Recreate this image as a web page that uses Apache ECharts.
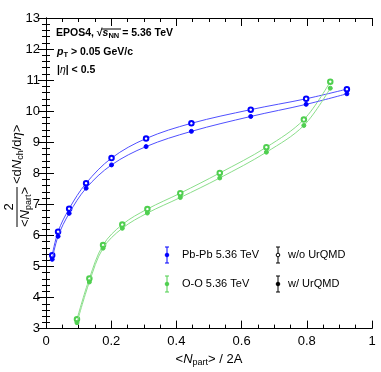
<!DOCTYPE html>
<html>
<head>
<meta charset="utf-8">
<script src="https://cdn.jsdelivr.net/npm/echarts@6/dist/echarts.min.js"></script>
<style>
  html, body { margin: 0; padding: 0; background: #fff; }
  #main { width: 381px; height: 372px; }
</style>
</head>
<body>
<div id="main"></div>
<script>
// Pb-Pb 5.36 TeV
var ppX = [0.019, 0.037, 0.071, 0.123, 0.201, 0.307, 0.446, 0.628, 0.798, 0.923]
var ppNoUrqmd = [5.36, 6.12, 6.86, 7.68, 8.49, 9.12, 9.61, 10.05, 10.40, 10.71]
var ppUrqmd = [5.23, 5.97, 6.71, 7.52, 8.27, 8.86, 9.35, 9.83, 10.22, 10.56]
// O-O 5.36 TeV
var ooX = [0.095, 0.133, 0.175, 0.234, 0.311, 0.412, 0.533, 0.676, 0.791, 0.872]
var ooNoUrqmd = [3.30, 4.61, 5.69, 6.35, 6.85, 7.36, 8.01, 8.84, 9.73, 10.95]
var ooUrqmd = [3.19, 4.50, 5.59, 6.23, 6.72, 7.22, 7.85, 8.68, 9.54, 10.74]

var xTicks = ['0', '0.2', '0.4', '0.6', '0.8', '1']

var FONT = '"Liberation Sans", Arial, sans-serif'
var BLUE = '#0000ff', BLUE_LINE = '#5050ff'
var GREEN = '#4fcf4f', GREEN_LINE = '#8ade8a'

function pairs(xs, ys) {
  return xs.map(function (x, i) { return [x, ys[i]] })
}

function curve(name, xs, ys, color, lineColor, open) {
  return {
    name: name,
    type: 'line',
    smooth: 0.35,
    data: pairs(xs, ys),
    symbol: open ? 'emptyCircle' : 'circle',
    symbolSize: open ? 4.5 : 4,
    lineStyle: { color: lineColor, width: 1 },
    itemStyle: { color: color, borderColor: color, borderWidth: open ? 0.8 : 1 },
    z: open ? 3 : 4
  }
}

var tickCommon = {
  axisLine: { show: true, lineStyle: { color: '#000', width: 1 } },
  axisTick: { show: true, inside: true, length: 8, lineStyle: { color: '#000' } },
  splitLine: { show: false }
}

// legend marker with error bar
function legendMark(x, y, color, open) {
  return {
    type: 'group', x: x, y: y,
    children: [
      { type: 'line', shape: { x1: 0, y1: -8, x2: 0, y2: 8 }, style: { stroke: color, lineWidth: 1 } },
      { type: 'line', shape: { x1: -2, y1: -8, x2: 2, y2: -8 }, style: { stroke: color, lineWidth: 1 } },
      { type: 'line', shape: { x1: -2, y1: 8, x2: 2, y2: 8 }, style: { stroke: color, lineWidth: 1 } },
      { type: 'circle', shape: { cx: 0, cy: 0, r: 1.8 },
        style: { fill: open ? '#fff' : color, stroke: color, lineWidth: 1 } }
    ]
  }
}

var chart = echarts.init(document.getElementById('main'))
chart.setOption({
  animation: false,
  backgroundColor: '#fff',
  textStyle: { fontFamily: FONT },
  grid: { left: 46, right: 9, top: 18, bottom: 38 },
  xAxis: [
    Object.assign({}, tickCommon, {
      type: 'value', min: 0, max: 1, interval: 0.2,
      minorTick: { show: true, splitNumber: 4, length: 4, lineStyle: { color: '#000' } },
      axisLabel: {
        margin: 6, color: '#000', fontSize: 13, fontFamily: FONT,
        formatter: function (v) { return xTicks[Math.round(v / 0.2)] }
      },
      name: '<{i|N}{s|part}> / 2A',
      nameLocation: 'middle', nameGap: 22,
      nameTextStyle: {
        color: '#000', fontSize: 13, fontFamily: FONT,
        rich: {
          i: { fontStyle: 'italic', fontSize: 13, fontFamily: FONT, color: '#000' },
          s: { fontSize: 9, fontFamily: FONT, color: '#000', padding: [7, 0, 0, 0] }
        }
      }
    }),
    Object.assign({}, tickCommon, {
      type: 'value', min: 0, max: 1, interval: 0.2, position: 'top',
      minorTick: { show: true, splitNumber: 4, length: 4, lineStyle: { color: '#000' } },
      axisLabel: { show: false }
    })
  ],
  yAxis: [
    Object.assign({}, tickCommon, {
      type: 'value', min: 3, max: 13, interval: 1,
      minorTick: { show: true, splitNumber: 5, length: 4, lineStyle: { color: '#000' } },
      axisLabel: { margin: 6, color: '#000', fontSize: 13, fontFamily: FONT }
    }),
    Object.assign({}, tickCommon, {
      type: 'value', min: 3, max: 13, interval: 1, position: 'right',
      minorTick: { show: true, splitNumber: 5, length: 4, lineStyle: { color: '#000' } },
      axisLabel: { show: false }
    })
  ],
  series: [
    curve('Pb-Pb w/o UrQMD', ppX, ppNoUrqmd, BLUE, BLUE_LINE, true),
    curve('Pb-Pb w/ UrQMD', ppX, ppUrqmd, BLUE, BLUE_LINE, false),
    curve('O-O w/o UrQMD', ooX, ooNoUrqmd, GREEN, GREEN_LINE, true),
    curve('O-O w/ UrQMD', ooX, ooUrqmd, GREEN, GREEN_LINE, false)
  ],
  graphic: [
    // header text
    {
      type: 'text', left: 56, top: 28,
      style: {
        text: 'EPOS4, √{s|s}{sub|NN} = 5.36 TeV',
        font: 'bold 10.5px ' + FONT, fill: '#000',
        rich: {
          s: { font: 'bold italic 10.5px ' + FONT, fill: '#000' },
          sub: { font: 'bold 7.5px ' + FONT, fill: '#000', padding: [5, 0, 0, 0] }
        }
      }
    },
    { type: 'line', shape: { x1: 102, y1: 29, x2: 121, y2: 29 }, style: { stroke: '#000', lineWidth: 1 } },
    {
      type: 'text', left: 57, top: 47,
      style: {
        text: '{i|p}{sub|T} > 0.05 GeV/c',
        font: 'bold 10.5px ' + FONT, fill: '#000',
        rich: {
          i: { font: 'bold italic 10.5px ' + FONT, fill: '#000' },
          sub: { font: 'bold 7.5px ' + FONT, fill: '#000', padding: [5, 0, 0, 0] }
        }
      }
    },
    {
      type: 'text', left: 57, top: 65,
      style: {
        text: '|{i|η}| < 0.5',
        font: 'bold 10.5px ' + FONT, fill: '#000',
        rich: { i: { font: 'italic 10.5px ' + FONT, fill: '#000' } }
      }
    },
    // y axis title, rotated
    {
      type: 'group', x: 17, y: 207, rotation: Math.PI / 2,
      children: [
        { type: 'line', shape: { x1: -20, y1: 0, x2: 20, y2: 0 }, style: { stroke: '#000', lineWidth: 1 } },
        { type: 'text', x: 0, y: -8,
          style: { text: '2', font: '13px ' + FONT, fill: '#000', align: 'center', verticalAlign: 'middle' } },
        { type: 'text', x: 0, y: 8,
          style: {
            text: '<{i|N}{s|part}>', font: '13px ' + FONT, fill: '#000', align: 'center', verticalAlign: 'middle',
            rich: {
              i: { font: 'italic 13px ' + FONT, fill: '#000' },
              s: { font: '9px ' + FONT, fill: '#000', padding: [7, 0, 0, 0] }
            }
          } },
        { type: 'text', x: 23, y: 0,
          style: {
            text: '<d{i|N}{s|ch}/d{i|η}>', font: '13px ' + FONT, fill: '#000', align: 'left', verticalAlign: 'middle',
            rich: {
              i: { font: 'italic 13px ' + FONT, fill: '#000' },
              s: { font: '9px ' + FONT, fill: '#000', padding: [7, 0, 0, 0] }
            }
          } }
      ]
    },
    // legend
    legendMark(167, 255, BLUE, false),
    legendMark(167, 284, GREEN, false),
    legendMark(278, 255, '#000', true),
    legendMark(278, 284, '#000', false),
    { type: 'text', left: 182, top: 249, style: { text: 'Pb-Pb 5.36 TeV', font: '11px ' + FONT, fill: '#000' } },
    { type: 'text', left: 182, top: 278, style: { text: 'O-O 5.36 TeV', font: '11px ' + FONT, fill: '#000' } },
    { type: 'text', left: 288, top: 249, style: { text: 'w/o UrQMD', font: '11px ' + FONT, fill: '#000' } },
    { type: 'text', left: 288, top: 278, style: { text: 'w/ UrQMD', font: '11px ' + FONT, fill: '#000' } }
  ]
})
</script>
</body>
</html>
